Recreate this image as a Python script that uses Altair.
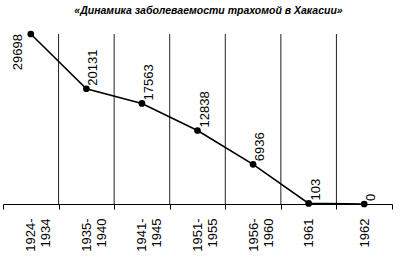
import altair as alt
import pandas as pd

periods = ["1924-1934", "1935-1940", "1941-1945", "1951-1955", "1956-1960", "1961", "1962"]
cases = [29698, 20131, 17563, 12838, 6936, 103, 0]
title_text = "«Динамика заболеваемости трахомой в Хакасии»"

df = pd.DataFrame({"period": periods, "cases": cases})

W, H = 389, 170
FONT = "Liberation Sans"

xscale = alt.Scale(type="band", paddingInner=0, paddingOuter=0)
x_axis = alt.Axis(
    title=None, labelAngle=-90, tickBand="extent", tickSize=5, labelPadding=9,
    labelFont=FONT, labelFontSize=13, labelColor="black", labelLineHeight=15,
    domainColor="black", tickColor="black", domainWidth=1, tickWidth=1, grid=False,
    labelExpr="length(datum.label) > 5 ? [slice(datum.label, 0, 5), slice(datum.label, 5)] : datum.label",
)
x = alt.X("period:N", sort=periods, scale=xscale, axis=x_axis)
y = alt.Y("cases:Q", scale=alt.Scale(domain=[0, max(cases)], nice=False, zero=True), axis=None)

base = alt.Chart(df)

grid = base.transform_filter(alt.datum.period != periods[-1]).mark_rule(
    color="#222", strokeWidth=1
).encode(
    x=alt.X("period:N", sort=periods, bandPosition=1),
    y=alt.value(0), y2=alt.value(H),
)

line = base.mark_line(color="black", strokeWidth=1.6).encode(x=x, y=y)
pts = base.mark_circle(color="black", size=45, opacity=1).encode(x=x, y=y)

lab_first = base.transform_filter(alt.datum.period == periods[0]).mark_text(
    angle=270, align="right", baseline="middle", dx=0, dy=-13,
    font=FONT, fontSize=13, color="black"
).encode(x=x, y=y, text="cases:Q")

lab_rest = base.transform_filter(alt.datum.period != periods[0]).mark_text(
    angle=270, align="left", baseline="middle", dx=3, dy=7,
    font=FONT, fontSize=13, color="black"
).encode(x=x, y=y, text="cases:Q")

chart = alt.layer(grid, line, pts, lab_first, lab_rest).properties(
    width=W, height=H,
    padding={"left": 3, "top": 34, "right": 8, "bottom": 57},
    autosize=alt.AutoSizeParams(type="none"),
    title=alt.TitleParams(
        title_text, font=FONT, fontSize=10.5, fontWeight="bold", fontStyle="italic",
        anchor="middle", offset=14, dx=11, color="black",
    ),
).configure_view(stroke=None)

chart.save("out.html", embed_options={"renderer": "svg", "actions": False})
